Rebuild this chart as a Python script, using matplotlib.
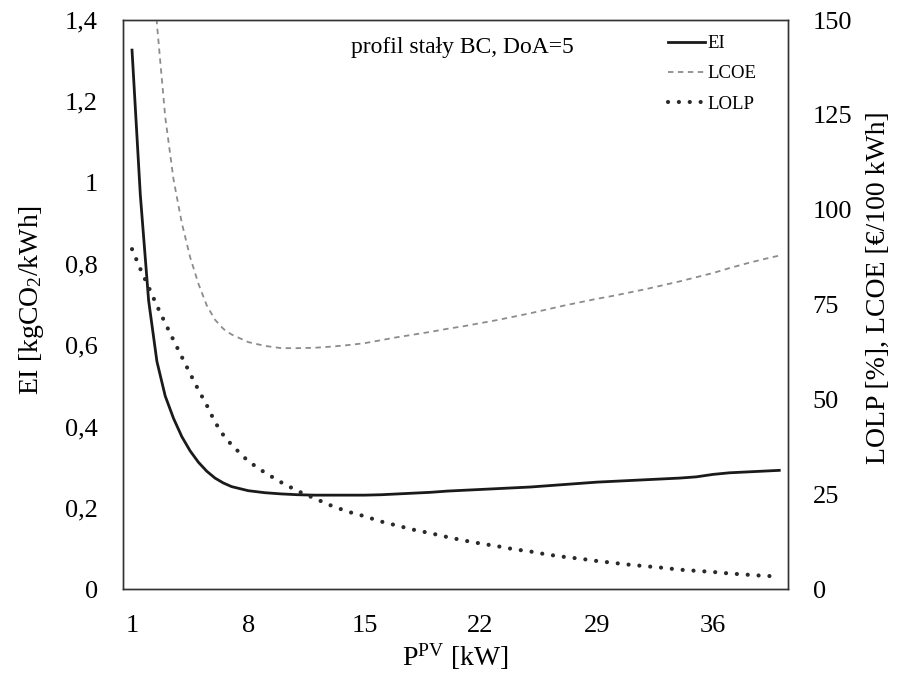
import numpy as np
import matplotlib
matplotlib.use("Agg")
from matplotlib import pyplot as plt

plt.rcParams['font.family'] = ['Liberation Serif', 'DejaVu Serif']
plt.rcParams['mathtext.fontset'] = 'custom'
plt.rcParams['mathtext.rm'] = 'Liberation Serif'
plt.rcParams['mathtext.it'] = 'Liberation Serif:italic'

# moc PV [kW]
ppv = [1, 1.5, 2, 2.5, 3, 3.5, 4, 4.5, 5, 5.5, 6, 6.5, 7, 8, 9, 10,
       11, 12, 13, 14, 15, 16, 17, 18, 19, 20,
       21, 22, 23, 24, 25, 26, 27, 28, 29, 30,
       31, 32, 33, 34, 35, 36, 37, 38, 39, 40]

# EI [kgCO2/kWh] - lewa os
ei = [1.326, 0.97, 0.71, 0.56, 0.475, 0.42, 0.375, 0.34, 0.312, 0.29, 0.273, 0.261,
      0.252, 0.242, 0.237, 0.234,
      0.232, 0.231, 0.231, 0.231, 0.231, 0.232, 0.234, 0.236, 0.238, 0.241,
      0.243, 0.245, 0.247, 0.249, 0.251, 0.254, 0.257, 0.260, 0.263, 0.265,
      0.267, 0.269, 0.271, 0.273, 0.276, 0.282, 0.286, 0.288, 0.290, 0.292]

# LCOE [EUR/100 kWh] - prawa os
lcoe = [320, 240, 185, 149, 124.5, 108, 96.5, 87.5, 80.5, 74.8, 71.0, 68.6,
        67.1, 65.1, 64.1, 63.5,
        63.5, 63.6, 63.9, 64.3, 64.8, 65.6, 66.4, 67.1, 67.8, 68.6,
        69.3, 70.1, 70.9, 71.8, 72.7, 73.7, 74.7, 75.6, 76.5, 77.3,
        78.2, 79.1, 80.1, 81.1, 82.2, 83.3, 84.6, 85.8, 86.9, 87.9]

# LOLP [%] - prawa os
lolp = [89.6, 84.4, 79.6, 74.7, 70.1, 65.6, 61.2, 56.8, 52.5, 48.5, 44.0, 40.6,
        38.0, 33.7, 30.7, 28.1,
        25.8, 23.9, 22.0, 20.4, 19.2, 17.8, 16.7, 15.6, 14.7, 13.7,
        12.8, 12.0, 11.3, 10.5, 9.9, 9.1, 8.5, 8.0, 7.4, 6.9,
        6.4, 6.0, 5.6, 5.1, 4.8, 4.5, 4.1, 3.8, 3.5, 3.3]

xticks = [1, 8, 15, 22, 29, 36]
yticks_left = [0, 0.2, 0.4, 0.6, 0.8, 1.0, 1.2, 1.4]
ylabels_left = ['0', '0,2', '0,4', '0,6', '0,8', '1', '1,2', '1,4']
yticks_right = [0, 25, 50, 75, 100, 125, 150]

fig = plt.figure(figsize=(8.97, 6.79), dpi=100)
ax = fig.add_axes([0.137, 0.1325, 0.741, 0.838])
ax2 = ax.twinx()

l1, = ax.plot(ppv, ei, color='#1a1a1a', lw=2.0, label='EI')
l2, = ax2.plot(ppv, lcoe, color='#8c8c8c', lw=1.3, ls=(0, (3, 2.5)), label='LCOE')
l3, = ax2.plot(ppv, lolp, color='#2a2a2a', lw=3.0, ls=(0, (0.01, 2.6)),
               dash_capstyle='round', label='LOLP')

ax.set_xlim(0.45, 40.5)
ax.set_ylim(0, 1.4)
ax2.set_ylim(0, 150)

ax.set_xticks(xticks)
ax.set_yticks(yticks_left)
ax.set_yticklabels(ylabels_left)
ax2.set_yticks(yticks_right)

ax.tick_params(axis='x', length=0, pad=19, labelsize=19)
ax.tick_params(axis='y', length=0, pad=18, labelsize=19)
ax2.tick_params(axis='y', length=0, pad=18, labelsize=19)

for a in (ax, ax2):
    for s in a.spines.values():
        s.set_linewidth(1.0)
        s.set_color('#333333')

ax.set_xlabel(r'P$^{\mathrm{PV}}$ [kW]', fontsize=20, labelpad=3)
ax.set_ylabel(r'EI [kgCO$_2$/kWh]', fontsize=20)
ax.yaxis.set_label_coords(-0.115, 0.508)
ax2.set_ylabel('LOLP [%], LCOE [€/100 kWh]', fontsize=20, rotation=90)
ax2.yaxis.set_label_coords(1.118, 0.53)

ax.text(0.511, 0.951, 'profil stały BC, DoA=5', transform=ax.transAxes,
        fontsize=17, ha='center', va='center')

ax2.legend([l1, l2, l3], ['EI', 'LCOE', 'LOLP'], loc='upper left',
           bbox_to_anchor=(0.806, 0.99), frameon=False, fontsize=13.5,
           handlelength=2.0, handletextpad=0.1, labelspacing=0.7, borderpad=0)

fig.savefig('out.png', dpi=100)
